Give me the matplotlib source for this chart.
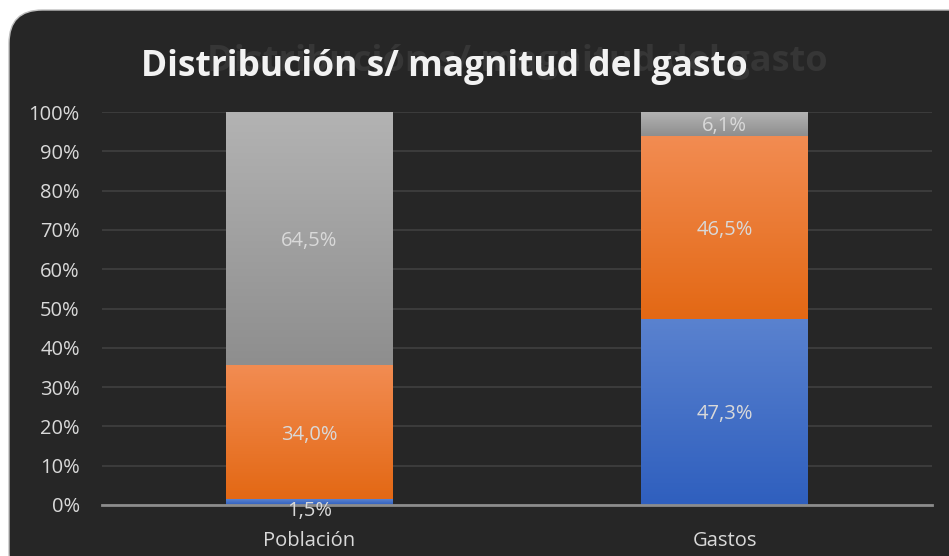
import numpy as np
import matplotlib
matplotlib.use("Agg")
import matplotlib.pyplot as plt
from matplotlib.patches import FancyBboxPatch
from matplotlib.colors import LinearSegmentedColormap

categories = ["Población", "Gastos"]
blue_vals = [1.5, 47.3]
orange_vals = [34.0, 46.5]
gray_vals = [64.5, 6.1]
labels_blue = ["1,5%", "47,3%"]
labels_orange = ["34,0%", "46,5%"]
labels_gray = ["64,5%", "6,1%"]
yticks = [0, 10, 20, 30, 40, 50, 60, 70, 80, 90, 100]
title = "Distribución s/ magnitud del gasto"

plt.rcParams['font.family'] = ['Open Sans', 'DejaVu Sans']

W, H = 949, 556
fig = plt.figure(figsize=(W/100, H/100), dpi=100)
fig.patch.set_facecolor('white')

bg = '#262626'
box = FancyBboxPatch((9/W, -30/H), (W+40)/W, (H - 10 + 30)/H,
                     boxstyle="round,pad=0,rounding_size=0.035",
                     transform=fig.transFigure, facecolor=bg,
                     edgecolor='#BFBFBF', linewidth=1.0, mutation_aspect=W/H,
                     zorder=-10)
fig.patches.append(box)

ax = fig.add_axes([102/W, 1-505/H, (932-102)/W, (505-112)/H])
ax.set_facecolor('none')
ax.set_zorder(1)

blue = np.array(blue_vals); orange = np.array(orange_vals); gray = np.array(gray_vals)
tot = blue + orange + gray
bn, on, gn = blue/tot*100, orange/tot*100, gray/tot*100
x = np.arange(len(categories))
width = 167/415

grads = {
    'blue': ('#2F5FBE', '#5A82CF'),
    'orange': ('#E36814', '#F28C52'),
    'gray': ('#8E8E8E', '#B3B3B3'),
}
grad_img = np.linspace(0, 1, 256).reshape(-1, 1)

def gbar(vals, bottom, key):
    bars = ax.bar(x, vals, width, bottom=bottom, color=grads[key][0], linewidth=0, zorder=2)
    cmap = LinearSegmentedColormap.from_list(key, list(grads[key]))
    for b in bars:
        x0, y0 = b.get_x(), b.get_y()
        w, h = b.get_width(), b.get_height()
        im = ax.imshow(grad_img, cmap=cmap, extent=[x0, x0+w, y0, y0+h], origin='lower',
                       aspect='auto', zorder=2.5, interpolation='bilinear')
        im.set_clip_path(b)
    return bars

gbar(bn, 0, 'blue')
gbar(on, bn, 'orange')
gbar(gn, bn+on, 'gray')

lab_color = '#D9D9D9'
fs = 14.5
va = 'center_baseline'
for i in range(len(x)):
    ax.text(x[i], bn[i]/2 if bn[i] > 5 else -1.0, labels_blue[i], ha='center', va=va,
            color=lab_color, fontsize=fs, zorder=5)
    ax.text(x[i], bn[i] + on[i]/2, labels_orange[i], ha='center', va=va,
            color=lab_color, fontsize=fs, zorder=5)
    ax.text(x[i], bn[i] + on[i] + gn[i]/2, labels_gray[i], ha='center', va=va,
            color=lab_color, fontsize=fs, zorder=5)

ax.set_xlim(-0.5, len(x)-0.5)
ax.set_ylim(0, 100)
ax.set_yticks(yticks)
ax.set_yticklabels([f"{t}%" for t in yticks])
ax.set_xticks(x)
ax.set_xticklabels(categories)
ax.tick_params(axis='y', length=0, colors=lab_color, labelsize=14.5, pad=16)
ax.tick_params(axis='x', length=0, colors=lab_color, labelsize=14.5, pad=19)
ax.yaxis.grid(True, color='#404040', linewidth=1.2, zorder=0)
ax.set_axisbelow(True)
for s in ['top', 'right', 'left']:
    ax.spines[s].set_visible(False)
ax.spines['bottom'].set_color('#8C8C8C')
ax.spines['bottom'].set_linewidth(2)
ax.spines['bottom'].set_zorder(4)

fig.text(517/W, 1-62/H, title, ha='center', va='center', color='#363636',
         fontsize=26, fontweight='bold', zorder=-5)
fig.text(444/W, 1-67/H, title, ha='center', va='center', color='#F2F2F2',
         fontsize=25.5, fontweight='bold', zorder=5)

fig.savefig('out.png', dpi=100, facecolor=fig.get_facecolor())
